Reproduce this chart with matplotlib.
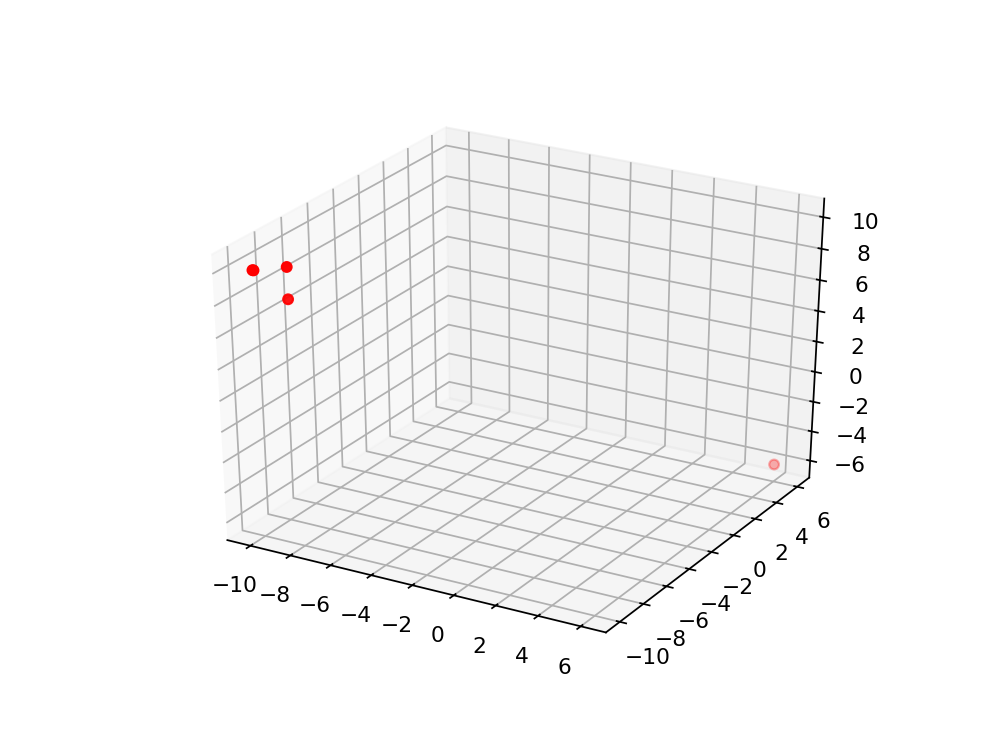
import matplotlib
matplotlib.use("Agg")
import matplotlib.pyplot as plt

x_values = [-10, -9.95, -9, -9, 6]
y_values = [-10, -10, -9, -9, 6]
z_values = [10, 10, 10, 8, -6]

fig = plt.figure(figsize=(6.4, 4.8), dpi=156.25)
ax = fig.add_subplot(111, projection='3d')
ax.apply_aspect = lambda position=None: None
ax.set_box_aspect((1, 1, 1), zoom=0.948)
ax.scatter(x_values, y_values, z_values, c='r', marker='o')
fig.savefig('out.png')
